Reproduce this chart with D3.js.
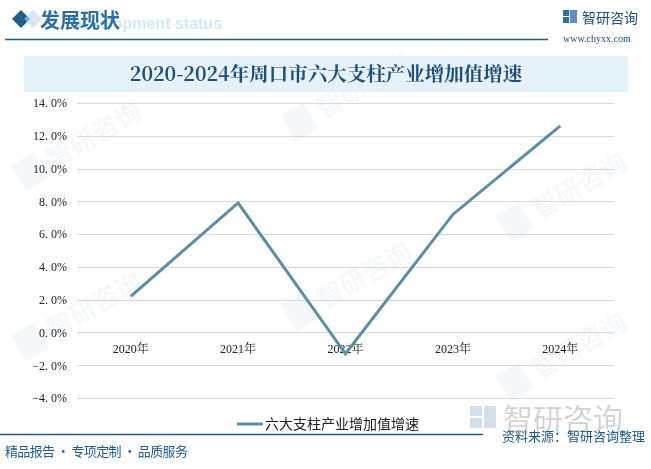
<!DOCTYPE html>
<html><head><meta charset="utf-8">
<script src="https://cdn.jsdelivr.net/npm/d3@7/dist/d3.min.js"></script>
<style>body{margin:0;background:#fff;}svg{display:block;}</style>
</head><body>
<script>
const categories = ["2020年","2021年","2022年","2023年","2024年"];
const seriesName = "六大支柱产业增加值增速";
const values = [2.2, 7.9, -1.3, 7.2, 12.6];
const yTicks = [-4,-2,0,2,4,6,8,10,12,14];

const W = 651, H = 469;
const svg = d3.select("body").append("svg").attr("width", W).attr("height", H);
const blue = "#1f5c8b";
const cjk = "'Noto Sans CJK SC', sans-serif";
const serif = "'Liberation Serif','Noto Serif CJK SC','Noto Sans CJK SC',serif";

// watermarks
const wm = svg.append("g").attr("opacity", 0.045).attr("fill", "#1f5c8b");
[[60,160],[330,110],[545,210],[60,330],[330,300],[545,370]].forEach(([x,y])=>{
  const g = wm.append("g").attr("transform", `translate(${x},${y}) rotate(-30)`);
  g.append("rect").attr("x",-45).attr("y",-20).attr("width",26).attr("height",30);
  g.append("text").attr("x",-10).attr("y",5).attr("font-size",26).attr("font-family",cjk).attr("font-weight","bold").text("智研咨询");
});

// header
svg.append("path").attr("d","M12,19 L21,10 L30,19 L21,28 Z").attr("fill",blue);
svg.append("path").attr("d","M24,19 L33,10 L42,19 L33,28 Z").attr("fill","#bcd7ec").attr("opacity",0.6);
svg.append("text").attr("x",70).attr("y",29).attr("font-size",16).attr("font-weight","bold")
  .attr("font-family","'Liberation Sans',sans-serif").attr("fill","#d6e8f5").text("Development status");
svg.append("text").attr("x",40).attr("y",28).attr("font-size",20).attr("font-weight","bold")
  .attr("font-family",cjk).attr("fill","#2b6ea5").text("发展现状");
svg.append("line").attr("x1",5).attr("x2",548).attr("y1",39.5).attr("y2",39.5).attr("stroke",blue).attr("stroke-width",1.5);
// logo
svg.append("rect").attr("x",563).attr("y",10).attr("width",6).attr("height",6).attr("fill","#2b6ea5");
svg.append("rect").attr("x",563).attr("y",17).attr("width",6).attr("height",6).attr("fill","#2b6ea5");
svg.append("rect").attr("x",570).attr("y",10).attr("width",7).attr("height",13).attr("fill","#5a8fc4");
svg.append("text").attr("x",582).attr("y",23).attr("font-size",14).attr("font-family",cjk).attr("fill","#1f4e79").text("智研咨询");
svg.append("text").attr("x",563).attr("y",42).attr("font-size",10).attr("font-family",serif).attr("fill","#1f4e79").text("www.chyxx.com");

// title box
svg.append("rect").attr("x",24).attr("y",56).attr("width",604).attr("height",36).attr("fill","#e6f2fa");
svg.append("text").attr("x",326).attr("y",81).attr("text-anchor","middle").attr("font-size",19.5).attr("font-weight","bold")
  .attr("font-family","'Noto Serif CJK SC','Liberation Serif',serif").attr("fill","#1f4e79").text("2020-2024年周口市六大支柱产业增加值增速");

// scales
const x = d3.scaleBand().domain(categories).range([77, 614]);
const y = d3.scaleLinear().domain([-4, 14]).range([398, 103]);

const grid = svg.append("g");
yTicks.forEach(t=>{
  grid.append("line").attr("x1",77).attr("x2",614).attr("y1",Math.round(y(t))+0.5).attr("y2",Math.round(y(t))+0.5)
    .attr("stroke","#d9d9d9").attr("stroke-width",1);
});
const yAxis = d3.axisLeft(y).tickValues(yTicks).tickSize(0).tickPadding(0).tickFormat(d=>d3.format(".1f")(d).replace(".", ". ")+"%");
const ya = svg.append("g").attr("transform","translate(67,0)").call(yAxis);
ya.select(".domain").remove();
ya.selectAll("text").attr("font-size",12).attr("font-family",serif).attr("fill","#222");

const xAxis = d3.axisBottom(x).tickSize(0).tickPadding(0);
const xa = svg.append("g").attr("transform",`translate(0,${y(0)+12})`).call(xAxis);
xa.select(".domain").remove();
xa.selectAll("text").attr("font-size",12).attr("font-family",serif).attr("fill","#222");

const line = d3.line().x((d,i)=>x(categories[i])+x.bandwidth()/2).y(d=>y(d));
svg.append("path").datum(values).attr("d",line).attr("fill","none").attr("stroke","#5b8ea6").attr("stroke-width",3);

// legend
svg.append("line").attr("x1",237).attr("x2",263).attr("y1",424).attr("y2",424).attr("stroke","#5b8ea6").attr("stroke-width",3);
svg.append("text").attr("x",265).attr("y",429).attr("font-size",14).attr("font-family",cjk).attr("fill","#222").text(seriesName);

// footer
svg.append("line").attr("x1",0).attr("x2",483).attr("y1",434.5).attr("y2",434.5).attr("stroke",blue).attr("stroke-width",1.5);
const lg = svg.append("g").attr("opacity",0.25);
lg.append("rect").attr("x",470).attr("y",406).attr("width",12).attr("height",10).attr("fill","#5a7fa6");
lg.append("rect").attr("x",470).attr("y",418).attr("width",12).attr("height",10).attr("fill","#5a7fa6");
lg.append("rect").attr("x",484).attr("y",406).attr("width",12).attr("height",22).attr("fill","#5a7fa6");
lg.append("text").attr("x",503).attr("y",430).attr("font-size",30).attr("font-family",cjk).attr("fill","#555").text("智研咨询");
svg.append("text").attr("x",502).attr("y",441).attr("font-size",13).attr("font-family",cjk).attr("fill",blue).text("资料来源：智研咨询整理");
svg.append("text").attr("x",5).attr("y",456).attr("font-size",13).attr("font-family",cjk).attr("fill",blue)
  .attr("textLength",183).attr("lengthAdjust","spacing").text("精品报告 · 专项定制 · 品质服务");
</script>
</body></html>
